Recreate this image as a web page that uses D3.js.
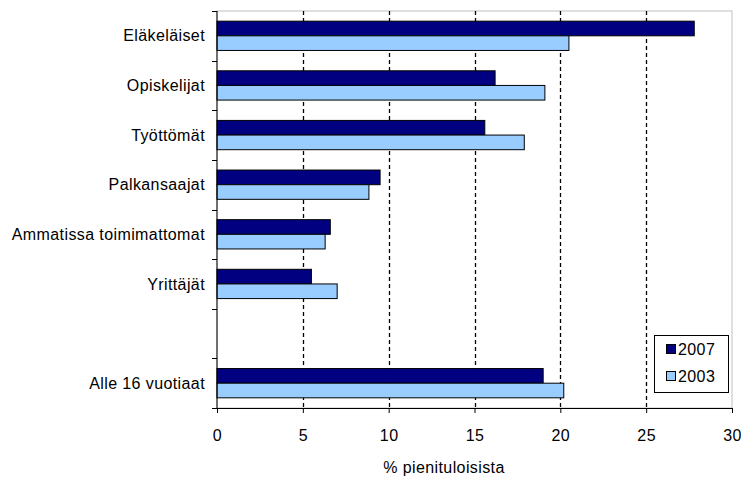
<!DOCTYPE html>
<html>
<head>
<meta charset="utf-8">
<script src="https://cdn.jsdelivr.net/npm/d3@7"></script>
<style>
  body { margin: 0; background: #fff; }
  text { font-family: "Liberation Sans", Arial, sans-serif; font-size: 16px; letter-spacing: 0.4px; fill: #000; }
</style>
</head>
<body>
<div id="chart"></div>
<script>
const categories = ["Eläkeläiset", "Opiskelijat", "Työttömät", "Palkansaajat",
    "Ammatissa toimimattomat", "Yrittäjät", "", "Alle 16 vuotiaat"];
const years = ["2007", "2003"];
const values2007 = [27.8, 16.2, 15.6, 9.5, 6.6, 5.5, null, 19.0];
const values2003 = [20.5, 19.1, 17.9, 8.85, 6.3, 7.0, null, 20.2];
const xTicks = [0, 5, 10, 15, 20, 25, 30];
const xTitle = "% pienituloisista";

const width = 741, height = 480;
const margin = {top: 11, right: 9, bottom: 72, left: 217};
const colors = {"2007": "#000080", "2003": "#99ccff"};

const svg = d3.select("#chart").append("svg")
    .attr("width", width)
    .attr("height", height);

const x = d3.scaleLinear()
    .domain([0, 30])
    .range([margin.left, width - margin.right]);

// slot index keeps the empty gap before the last group
const y = d3.scaleBand()
    .domain(d3.range(categories.length))
    .range([margin.top, height - margin.bottom]);

const barH = y.bandwidth() * 0.295;

// plot frame (light grey top/right)
svg.append("rect")
    .attr("x", x(0)).attr("y", margin.top)
    .attr("width", x(30) - x(0)).attr("height", y.range()[1] - margin.top)
    .attr("fill", "none").attr("stroke", "#c0c0c0");

// dashed gridlines
svg.append("g")
    .selectAll("line")
    .data(xTicks.slice(1, -1))
    .enter().append("line")
    .attr("x1", d => Math.round(x(d)) + 0.5).attr("x2", d => Math.round(x(d)) + 0.5)
    .attr("y1", margin.top).attr("y2", y.range()[1])
    .attr("stroke", "#000").attr("stroke-width", 1.3)
    .attr("stroke-dasharray", "4,3");

// bars
const rows = categories.map((c, i) => ({i: i, v2007: values2007[i], v2003: values2003[i]}))
    .filter(d => d.v2007 != null);

const g = svg.append("g");
rows.forEach(d => {
    const mid = y(d.i) + y.bandwidth() / 2;
    g.append("rect")
        .attr("x", x(0)).attr("y", mid - barH)
        .attr("width", x(d.v2007) - x(0)).attr("height", barH)
        .attr("fill", colors["2007"]).attr("stroke", "#000").attr("stroke-width", 1);
    g.append("rect")
        .attr("x", x(0)).attr("y", mid)
        .attr("width", x(d.v2003) - x(0)).attr("height", barH)
        .attr("fill", colors["2003"]).attr("stroke", "#000").attr("stroke-width", 1);
});

// x axis
const xAxis = svg.append("g")
    .attr("transform", `translate(0,${y.range()[1]})`)
    .call(d3.axisBottom(x).tickValues(xTicks).tickSize(5).tickPadding(17));
xAxis.select(".domain").attr("stroke", "#000");
xAxis.selectAll("text").style("font-size", "16px").style("font-family", null);

// y axis: ticks at band edges, labels centred
const yAxis = svg.append("g");
yAxis.append("line")
    .attr("x1", x(0)).attr("x2", x(0))
    .attr("y1", margin.top).attr("y2", y.range()[1])
    .attr("stroke", "#000");
yAxis.selectAll("line.tick")
    .data(d3.range(categories.length + 1))
    .enter().append("line")
    .attr("class", "tick")
    .attr("x1", x(0) - 5).attr("x2", x(0))
    .attr("y1", d => Math.round(margin.top + d * y.step()) + 0.5)
    .attr("y2", d => Math.round(margin.top + d * y.step()) + 0.5)
    .attr("stroke", "#000");
yAxis.selectAll("text")
    .data(categories)
    .enter().append("text")
    .attr("x", x(0) - 12)
    .attr("y", (d, i) => y(i) + y.bandwidth() / 2)
    .attr("dy", "0.35em")
    .attr("text-anchor", "end")
    .text(d => d);

// axis title
svg.append("text")
    .attr("x", 444)
    .attr("y", 473)
    .attr("text-anchor", "middle")
    .text(xTitle);

// legend
const legend = svg.append("g").attr("transform", "translate(654,335)");
legend.append("rect")
    .attr("x", 0.5).attr("y", 0.5).attr("width", 74).attr("height", 57)
    .attr("fill", "#fff").attr("stroke", "#000");
years.forEach((yr, i) => {
    const row = legend.append("g").attr("transform", `translate(12,${14 + i * 27})`);
    row.append("rect")
        .attr("x", 0.5).attr("y", -4.5).attr("width", 9).attr("height", 9)
        .attr("fill", colors[yr]).attr("stroke", "#000");
    row.append("text")
        .attr("x", 12).attr("y", 0).attr("dy", "0.35em")
        .text(yr);
});
</script>
</body>
</html>
